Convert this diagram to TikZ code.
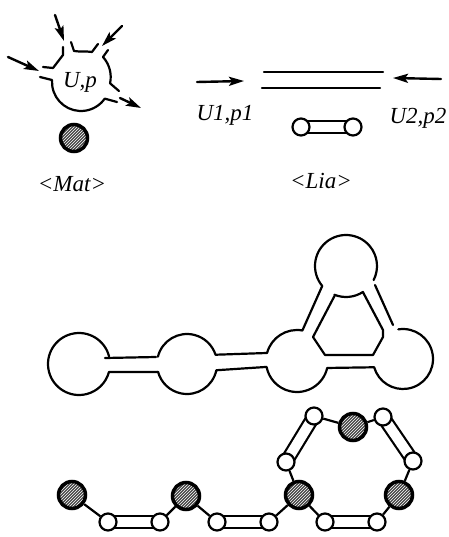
\documentclass[tikz,border=0pt]{standalone}
\usepackage{fontspec}
\setmainfont{Liberation Serif}
\usetikzlibrary{arrows.meta,patterns,calc}
\pgfdeclarelayer{background}
\pgfsetlayers{background,main}
\tikzset{
  line/.style={line width=2.2pt,line cap=round,line join=round},
  arr/.style={line width=2.4pt,line cap=round,-{Stealth[length=15pt,width=9pt,inset=3pt]}},
  lab/.style={font=\fontsize{23}{23}\selectfont\itshape,inner sep=0pt},
  mat/.style={circle,draw,line width=3.5pt,minimum size=27pt,inner sep=0pt,
     preaction={fill=black!72},pattern=north east lines,pattern color=white},
  lia/.style={circle,draw,line width=2.2pt,fill=white,minimum size=17pt,inner sep=0pt},
  dbl/.style={line width=2.2pt,double=white,double distance=10pt},
  sgl/.style={line width=2.2pt}
}
\begin{document}
\begin{tikzpicture}[x=1pt,y=-1pt]
\useasboundingbox (0,0) rectangle (448,537);
% ---- unit with ports
\coordinate (u) at (81,82);
\node[lab] (utext) at (80,82) {U,p};
\draw[line] (40,77) -- (52,80) -- ($(u)+(188:29pt)$) arc (188:325:29pt) -- (117,102);
\draw[line] (108,50) -- (103,57) arc (42:-12:30pt) -- (119,91);
\draw[line] (71,42) -- (74,51) .. controls (80,52) and (86,51) .. (92,52) -- (98,44);
\draw[line] (63,47) -- (63,55) -- (53,68) -- (43,67);
\coordinate (a1s) at (8,57);   \coordinate (a1e) at (39,71);
\coordinate (a2s) at (55,15);  \coordinate (a2e) at (64,41);
\coordinate (a3s) at (122,26); \coordinate (a3e) at (102,46);
\coordinate (a4s) at (120,98); \coordinate (a4e) at (141,108);
\draw[arr] (a1s) -- (a1e);
\draw[arr] (a2s) -- (a2e);
\draw[arr] (a3s) -- (a3e);
\draw[arr] (a4s) -- (a4e);
\node[mat] (m0) at (74,138) {};
\node[lab] (mattext) at (72,184) {<Mat>};
% ---- link
\draw[line] (264,72) -- (383,72);
\draw[line] (262,88) -- (380,88);
\coordinate (b1s) at (197,82);  \coordinate (b1e) at (244,81);
\coordinate (b2s) at (441,79);  \coordinate (b2e) at (393,78);
\draw[arr] (b1s) -- (b1e);
\draw[arr] (b2s) -- (b2e);
\node[lab] (u1) at (225,115) {U1,p1};
\node[lab] (u2) at (418,118) {U2,p2};
\node[lia] (l1) at (301,127) {};
\node[lia] (l2) at (353,127) {};
\node[lab] (liatext) at (321,181) {<Lia>};
% ---- outline
\coordinate (c1) at (79,364);
\coordinate (c2) at (187,364);
\coordinate (c3) at (297,361);
\coordinate (c4) at (403,359);
\coordinate (c5) at (346,266);
\draw[line] ($(c1)+(14:31pt)$) arc (14:345:31pt) -- (158,372);
\draw[line] (105,358) -- (156,357);
\draw[line] ($(c2)+(166:30pt)$) arc (166:18:30pt) -- ($(c3)+(165:31pt)$) arc (165:80:31pt) -- ($(c5)+(220:31pt)$) arc (220:-27:31pt);
\draw[line] (375,285) -- (393,325);
\draw[line] ($(c4)+(99:30pt)$) arc (99:-164:30pt) -- ($(c3)+(-13:31pt)$) arc (-13:-169:31pt) -- ($(c2)+(-12:30pt)$) arc (-12:-165:30pt);
\draw[line] ($(c5)+(248:31pt)$) arc (248:303:31pt) -- (383,330) -- (383,337) -- (373,355) -- (325,355) -- (313,337) -- (335,295);
% ---- chain
\node[mat] (m1) at (72,495) {};
\node[mat] (m2) at (186,496) {};
\node[mat] (m3) at (299,495) {};
\node[mat] (m4) at (399,495) {};
\node[mat] (m5) at (353,427) {};
\node[lia] (a1) at (108,522) {};
\node[lia] (a2) at (160,522) {};
\node[lia] (a3) at (217,522) {};
\node[lia] (a4) at (269,522) {};
\node[lia] (a5) at (325,522) {};
\node[lia] (a6) at (377,522) {};
\node[lia] (a7) at (286,462) {};
\node[lia] (a8) at (314,416) {};
\node[lia] (a9) at (383,417) {};
\node[lia] (a10) at (413,461) {};
\begin{pgfonlayer}{background}
\draw[dbl] (l1.center) -- (l2.center);
\draw[dbl] (a1.center) -- (a2.center);
\draw[dbl] (a3.center) -- (a4.center);
\draw[dbl] (a5.center) -- (a6.center);
\draw[dbl] (a7.center) -- (a8.center);
\draw[dbl] (a9.center) -- (a10.center);
\end{pgfonlayer}
\draw[sgl] (m1) -- (a1);
\draw[sgl] (a2) -- (m2);
\draw[sgl] (m2) -- (a3);
\draw[sgl] (a4) -- (m3);
\draw[sgl] (m3) -- (a5);
\draw[sgl] (a6) -- (m4);
\draw[sgl] (m3) -- (a7);
\draw[sgl] (a8) -- (m5);
\draw[sgl] (m5) -- (a9);
\draw[sgl] (a10) -- (m4);
\end{tikzpicture}
\end{document}
